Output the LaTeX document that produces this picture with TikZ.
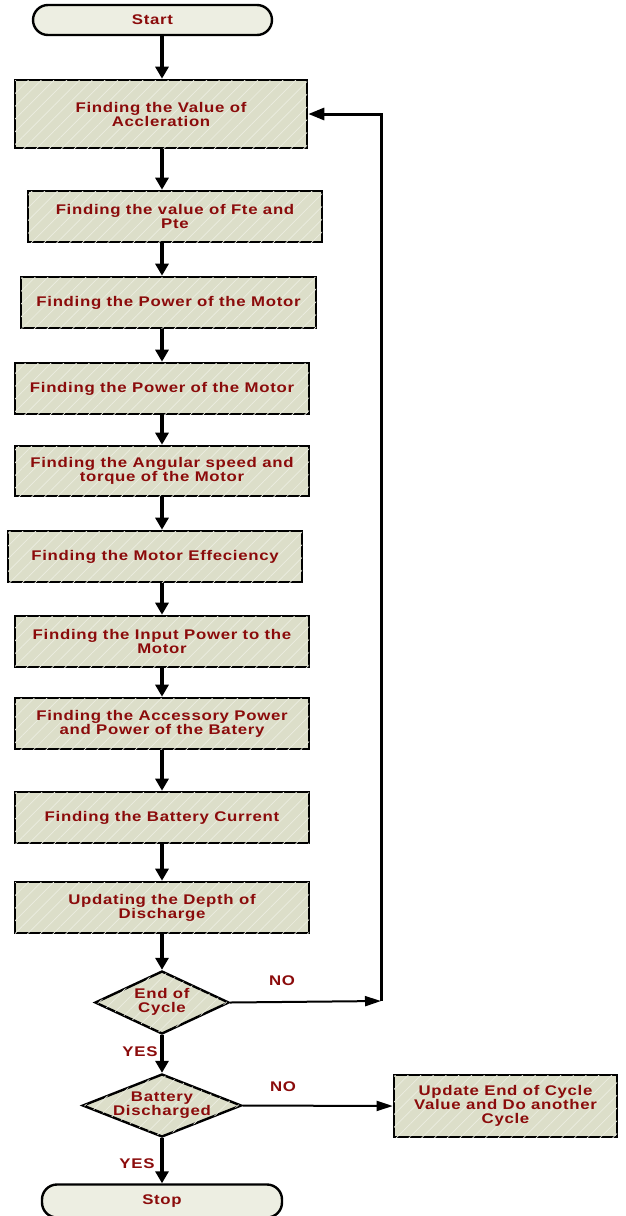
\documentclass[tikz,border=0pt]{standalone}
\usepackage{fontspec}
\newfontfamily\lab{Liberation Sans}[FakeStretch=1.2,LetterSpace=5]
\usetikzlibrary{shapes.geometric,arrows.meta,patterns.meta}
\definecolor{txtred}{HTML}{8B0B0B}
\definecolor{boxfill}{HTML}{DCDEC9}
\definecolor{termfill}{HTML}{EDEEE2}
\tikzset{
  labfont/.style={font=\lab\bfseries\fontsize{14}{14}\selectfont, text=txtred},
  stripes/.style={postaction={pattern={Lines[angle=45,distance=9pt,line width=0.7pt]},pattern color=white!45!boxfill}},
  procbox/.style={draw, line width=2.6pt, fill=boxfill, stripes, rectangle, inner sep=0pt, align=center, labfont},
  termbox/.style={draw, line width=2.4pt, fill=termfill, rectangle, rounded corners=15pt, inner sep=0pt, align=center, labfont},
  decbox/.style={draw, line width=2.4pt, fill=boxfill, stripes, diamond, inner sep=0pt, labfont},
  mainarrow/.style={line width=3.2pt, -{Triangle[length=12pt,width=13pt]}},
  sidearrow/.style={line width=2pt, -{Triangle[length=16pt,width=10pt]}},
  backarrow/.style={line width=3pt, -{Triangle[length=16pt,width=12pt]}},
  edgelabel/.style={labfont}
}
\newcommand{\dtext}[1]{\makebox[0pt]{\smash{\raisebox{-3.5pt}{\begin{tabular}{@{}c@{}}#1\end{tabular}}}}}
\begin{document}
\begin{tikzpicture}[x=1pt,y=-1pt]
\useasboundingbox[fill=white] (0,0) rectangle (625,1216);
\node[termbox, minimum width=239pt, minimum height=30pt] (start) at (152.5,20) {Start};
\node[procbox, minimum width=292pt, minimum height=68pt] (b1) at (161,114) {Finding the Value of\\Accleration};
\node[procbox, minimum width=294pt, minimum height=51pt] (b2) at (175,216.5) {Finding the value of Fte and\\Pte};
\node[procbox, minimum width=295pt, minimum height=51pt] (b3) at (168.5,302.5) {Finding the Power of the Motor};
\node[procbox, minimum width=294pt, minimum height=51pt] (b4) at (162,388.5) {Finding the Power of the Motor};
\node[procbox, minimum width=294pt, minimum height=50pt] (b5) at (162,471) {Finding the Angular speed and\\torque of the Motor};
\node[procbox, minimum width=294pt, minimum height=51pt] (b6) at (155,556.5) {Finding the Motor Effeciency};
\node[procbox, minimum width=294pt, minimum height=51pt] (b7) at (162,641.5) {Finding the Input Power to the\\Motor};
\node[procbox, minimum width=294pt, minimum height=51pt] (b8) at (162,723.5) {Finding the Accessory Power\\and Power of the Batery};
\node[procbox, minimum width=294pt, minimum height=51pt] (b9) at (162,817.5) {Finding the Battery Current};
\node[procbox, minimum width=294pt, minimum height=51pt] (b10) at (162,907.5) {Updating the Depth of\\Discharge};
\node[decbox, minimum width=134pt, minimum height=63pt] (d1) at (162,1002.5) {\dtext{End of\\Cycle}};
\node[decbox, minimum width=159pt, minimum height=63pt] (d2) at (162,1105.5) {\dtext{Battery\\Discharged}};
\node[procbox, minimum width=223pt, minimum height=62pt] (b11) at (505.5,1106) {Update End of Cycle\\Value and Do another\\Cycle};
\node[termbox, minimum width=240pt, minimum height=33pt] (stop) at (162,1201) {Stop};
\coordinate (c1) at (381,1001);
% main flow
\draw[mainarrow] (start.south -| b4.center) -- (b1.north -| b4.center);
\draw[mainarrow] (b1.south -| b4.center) -- (b2.north -| b4.center);
\draw[mainarrow] (b2.south -| b4.center) -- (b3.north -| b4.center);
\draw[mainarrow] (b3.south -| b4.center) -- (b4.north);
\draw[mainarrow] (b4.south) -- (b5.north);
\draw[mainarrow] (b5.south) -- (b6.north -| b5.center);
\draw[mainarrow] (b6.south -| b5.center) -- (b7.north);
\draw[mainarrow] (b7.south) -- (b8.north);
\draw[mainarrow] (b8.south) -- (b9.north);
\draw[mainarrow] (b9.south) -- (b10.north);
\draw[mainarrow] (b10.south) -- (d1.north);
\draw[mainarrow] (d1.south) -- (d2.north);
\draw[mainarrow] (d2.south) -- (stop.north);
% side branches
\draw[sidearrow] (d1.east) -- (c1);
\draw[backarrow] (c1) |- (b1.east);
\draw[sidearrow] (d2.east) -- (b11.west);
% labels
\node[edgelabel] (no1) at (282,981) {NO};
\node[edgelabel] (yes1) at (140,1052) {YES};
\node[edgelabel] (no2) at (283,1087) {NO};
\node[edgelabel] (yes2) at (137,1164) {YES};
\end{tikzpicture}
\end{document}
